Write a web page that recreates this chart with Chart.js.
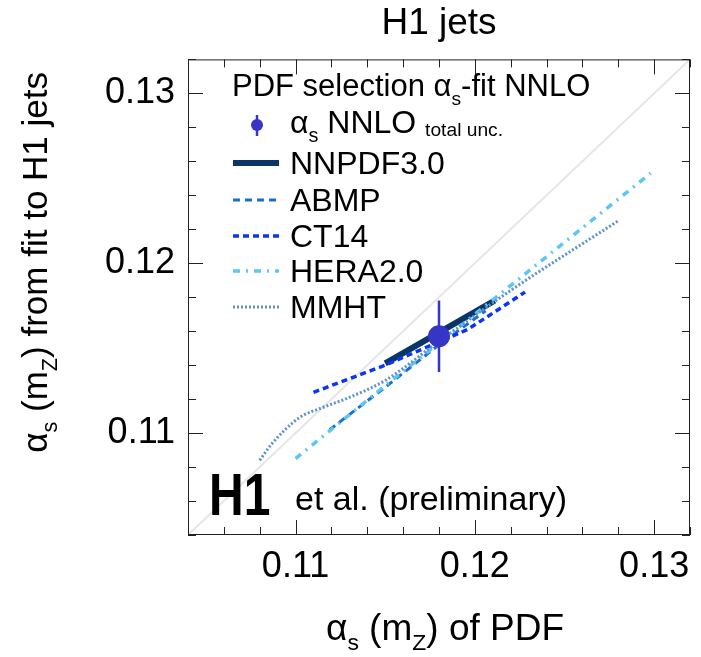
<!DOCTYPE html>
<html>
<head>
<meta charset="utf-8">
<style>
  html, body { margin: 0; padding: 0; background: #fff; }
  #wrap { width: 701px; height: 657px; }
</style>
<script src="https://cdn.jsdelivr.net/npm/chart.js@4.4.1/dist/chart.umd.min.js"></script>
</head>
<body>
<div id="wrap"><canvas id="chart" width="701" height="657"></canvas></div>
<script>
// === DATOS ===
const axisMin = 0.104;
const axisMax = 0.132;
const majorTicks = [0.11, 0.12, 0.13];

const diagX = [0.104, 0.132];
const diagY = [0.104, 0.132];

const fitX = [0.1180];
const fitY = [0.1157];
const fitErr = [0.0021];

const nnpdfX = [0.1150, 0.1211];
const nnpdfY = [0.1141, 0.1178];

const abmpX = [0.1119, 0.1150, 0.1180, 0.1206];
const abmpY = [0.1102, 0.1127, 0.1152, 0.1172];

const ct14X = [0.1110, 0.1150, 0.1196, 0.1228];
const ct14Y = [0.1124, 0.1140, 0.1161, 0.1183];

const heraX = [0.1100, 0.1150, 0.1180, 0.1298];
const heraY = [0.1085, 0.1128, 0.1153, 0.1253];

const mmhtX = [0.1080, 0.1087, 0.1102, 0.1115, 0.1130, 0.1150, 0.1180, 0.1220, 0.1280];
const mmhtY = [0.1084, 0.1094, 0.1109, 0.1115, 0.1121, 0.1131, 0.1154, 0.1184, 0.1225];

const pts = (xs, ys) => xs.map((x, i) => ({ x, y: ys[i] }));

const FONT = '"Liberation Sans", Arial, Helvetica, sans-serif';
const blueFit = '#3535c8';

// texto con subindices: partes [texto, tipo]
const setFont = (ctx, size, bold) => { ctx.font = (bold ? 'bold ' : '') + size + 'px ' + FONT; };
const partSize = (p, size) => p[1] === 'sub' ? size * 0.62 : p[1] === 'small' ? size * 0.6 : size;
const partDy = (p, size) => p[1] === 'sub' ? size * 0.28 : p[1] === 'small' ? size * 0.1 : 0;
const richWidth = (ctx, parts, size) => {
  let w = 0;
  for (const p of parts) { setFont(ctx, partSize(p, size)); w += ctx.measureText(p[0]).width; }
  return w;
};
const drawRich = (ctx, parts, x, y, size) => {
  ctx.textBaseline = 'alphabetic';
  ctx.textAlign = 'left';
  for (const p of parts) {
    setFont(ctx, partSize(p, size));
    ctx.fillText(p[0], x, y + partDy(p, size));
    x += ctx.measureText(p[0]).width;
  }
};

const titleY = [['α'], ['s', 'sub'], [' ('], ['m'], ['Z', 'sub'], [') from fit to H1 jets']];
const titleX = [['α'], ['s', 'sub'], [' ('], ['m'], ['Z', 'sub'], [') of PDF']];
const legendHeader = [['PDF selection α'], ['s', 'sub'], ['-fit NNLO']];
const legendFit = [['α'], ['s', 'sub'], [' NNLO '], ['total unc.', 'small']];

const isMajor = v => Math.abs(v * 100 - Math.round(v * 100)) < 1e-6;

const decoracion = {
  id: 'decoracion',
  afterDatasetsDraw(chart) {
    const { ctx, chartArea: a, scales: { x, y } } = chart;
    ctx.save();
    // marco y ticks hacia dentro
    ctx.strokeStyle = '#222';
    ctx.lineWidth = 1;
    ctx.setLineDash([]);
    ctx.strokeRect(a.left + 0.5, a.top + 0.5, a.right - a.left - 1, a.bottom - a.top - 1);
    ctx.beginPath();
    for (const t of x.ticks) {
      const px = Math.round(x.getPixelForValue(t.value)) + 0.5;
      const len = isMajor(t.value) ? 15 : 8;
      ctx.moveTo(px, a.bottom); ctx.lineTo(px, a.bottom - len);
      ctx.moveTo(px, a.top); ctx.lineTo(px, a.top + len);
    }
    for (const t of y.ticks) {
      const py = Math.round(y.getPixelForValue(t.value)) + 0.5;
      const len = isMajor(t.value) ? 15 : 8;
      ctx.moveTo(a.left, py); ctx.lineTo(a.left + len, py);
      ctx.moveTo(a.right, py); ctx.lineTo(a.right - len, py);
    }
    ctx.stroke();

    ctx.fillStyle = '#000';
    // titulos de ejes
    const sx = 37;
    const wx = richWidth(ctx, titleX, sx);
    drawRich(ctx, titleX, (a.left + a.right) / 2 + 6 - wx / 2, 640, sx);
    const sy = 35;
    const wy = richWidth(ctx, titleY, sy);
    ctx.save();
    ctx.translate(47, 72 + wy);
    ctx.rotate(-Math.PI / 2);
    drawRich(ctx, titleY, 0, 0, sy);
    ctx.restore();

    // leyenda
    const lx = a.left + 45, tx = a.left + 102;
    const ls = 32;
    drawRich(ctx, legendHeader, lx - 1, 96, 31);
    const rows = [125, 163, 200, 236, 271, 307];
    // punto con barra
    ctx.strokeStyle = blueFit; ctx.fillStyle = blueFit; ctx.lineWidth = 2.5;
    ctx.beginPath(); ctx.moveTo(lx + 24, rows[0] - 10); ctx.lineTo(lx + 24, rows[0] + 11); ctx.stroke();
    ctx.beginPath(); ctx.arc(lx + 24, rows[0], 6, 0, Math.PI * 2); ctx.fill();
    ctx.fillStyle = '#000';
    drawRich(ctx, legendFit, tx, rows[0] + 8, ls);
    const order = ['NNPDF3.0', 'ABMP', 'CT14', 'HERA2.0', 'MMHT'];
    order.forEach((name, i) => {
      const ds = chart.data.datasets.find(d => d.label === name);
      const ry = rows[i + 1];
      ctx.strokeStyle = ds.borderColor;
      ctx.lineWidth = ds.borderWidth;
      ctx.setLineDash(ds.borderDash || []);
      ctx.beginPath(); ctx.moveTo(lx, ry); ctx.lineTo(lx + 46, ry); ctx.stroke();
      ctx.setLineDash([]);
      ctx.fillStyle = '#000';
      drawRich(ctx, [[name]], tx, ry + 11, ls);
    });

    // H1 et al.
    ctx.save();
    ctx.translate(a.left + 21, 515);
    ctx.scale(0.8, 1);
    setFont(ctx, 60, true);
    ctx.textAlign = 'left'; ctx.textBaseline = 'alphabetic';
    ctx.fillText('H1', 0, 0);
    ctx.restore();
    setFont(ctx, 34);
    ctx.textAlign = 'left'; ctx.textBaseline = 'alphabetic';
    ctx.fillText('et al. (preliminary)', a.left + 107, 510);
    ctx.restore();
  }
};

const ejeComun = {
  type: 'linear',
  min: axisMin,
  max: axisMax,
  grid: { display: false, drawTicks: false },
  border: { display: false },
  ticks: {
    stepSize: 0.002,
    autoSkip: false,
    maxRotation: 0,
    color: '#000',
    font: { family: FONT, size: 36 },
    callback: v => majorTicks.some(m => Math.abs(m - v) < 1e-6) ? v.toFixed(2) : ''
  }
};

const lineaBase = { type: 'line', fill: false, pointRadius: 0, tension: 0 };

const chart = new Chart(document.getElementById('chart'), {
  type: 'scatter',
  data: {
    datasets: [
      { label: 'fit', data: pts(fitX, fitY), pointRadius: 11, backgroundColor: blueFit, borderColor: blueFit, pointBorderWidth: 0 },
      { ...lineaBase, label: 'err', data: [{ x: fitX[0], y: fitY[0] - fitErr[0] }, { x: fitX[0], y: fitY[0] + fitErr[0] }], borderColor: blueFit, borderWidth: 2.5 },
      { ...lineaBase, label: 'MMHT', data: pts(mmhtX, mmhtY), borderColor: '#5f93cc', borderWidth: 3, borderDash: [2, 2], cubicInterpolationMode: 'monotone' },
      { ...lineaBase, label: 'HERA2.0', data: pts(heraX, heraY), borderColor: '#5cc6f7', borderWidth: 3.5, borderDash: [7, 6, 2, 6] },
      { ...lineaBase, label: 'CT14', data: pts(ct14X, ct14Y), borderColor: '#0a35f5', borderWidth: 3.5, borderDash: [6, 4] },
      { ...lineaBase, label: 'ABMP', data: pts(abmpX, abmpY), borderColor: '#1c6fd0', borderWidth: 3, borderDash: [7, 5] },
      { ...lineaBase, label: 'NNPDF3.0', data: pts(nnpdfX, nnpdfY), borderColor: '#0b3566', borderWidth: 6 },
      { ...lineaBase, label: 'diag', data: pts(diagX, diagY), borderColor: '#e6e6e6', borderWidth: 2 }
    ]
  },
  options: {
    responsive: false,
    animation: false,
    layout: { padding: { left: 0, top: 0, right: 5, bottom: 0 } },
    plugins: {
      legend: { display: false },
      tooltip: { enabled: false },
      title: {
        display: true,
        text: 'H1 jets',
        fullSize: false,
        color: '#000',
        font: { family: FONT, size: 37, weight: 'normal' },
        lineHeight: 1.1,
        padding: { top: 2, bottom: 13 }
      }
    },
    scales: {
      x: { ...ejeComun, ticks: { ...ejeComun.ticks, padding: 10 }, afterFit: s => { s.height = 122; } },
      y: { ...ejeComun, ticks: { ...ejeComun.ticks, padding: 13 }, afterFit: s => { s.width = 188; } }
    }
  },
  plugins: [decoracion]
});
</script>
</body>
</html>
